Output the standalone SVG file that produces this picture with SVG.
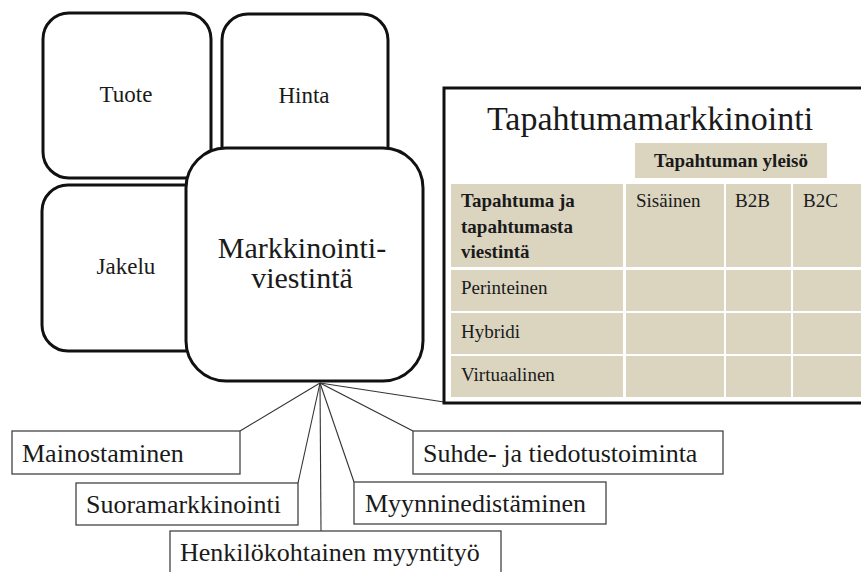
<svg xmlns="http://www.w3.org/2000/svg" width="861" height="572" viewBox="0 0 861 572">
<style>
.big{fill:#fff;stroke:#111;stroke-width:3}
.lbl{fill:#fff;stroke:#444;stroke-width:1.3}
text{font-family:'Liberation Serif','Tinos','Times New Roman','DejaVu Serif',serif;fill:#1a1a1a}
.cell{fill:#dbd5c0}
.conn{stroke:#333;stroke-width:1.1;fill:none}
</style>
<rect width="861" height="572" fill="#fff"/>
<g id="tuote"><rect class="big" x="43" y="13" width="168" height="165" rx="26"/><text x="126" y="102" font-size="23" text-anchor="middle" font-family="Liberation Serif, serif">Tuote</text></g>
<g id="hinta"><rect class="big" x="222" y="14" width="166" height="164" rx="26"/><text x="304" y="103" font-size="23" text-anchor="middle" font-family="Liberation Serif, serif">Hinta</text></g>
<g id="jakelu"><rect class="big" x="42" y="185" width="170" height="166" rx="26"/><text x="126" y="274" font-size="23" text-anchor="middle" font-family="Liberation Serif, serif">Jakelu</text></g>
<g id="markkinointiviestinta"><rect class="big" x="186" y="148" width="237" height="233" rx="40"/><text x="302" y="258" font-size="30" text-anchor="middle" font-family="Liberation Serif, serif">Markkinointi-</text><text x="302" y="288" font-size="30" text-anchor="middle" font-family="Liberation Serif, serif">viestintä</text></g>
<g id="connectors">
<line class="conn" x1="320" y1="383" x2="240" y2="431"/>
<line class="conn" x1="320" y1="383" x2="298" y2="483"/>
<line class="conn" x1="320" y1="383" x2="321" y2="531"/>
<line class="conn" x1="320" y1="383" x2="354" y2="482"/>
<line class="conn" x1="320" y1="383" x2="413" y2="431"/>
<line class="conn" x1="320" y1="383" x2="444" y2="402"/>
</g>
<g id="tapahtumamarkkinointi" font-family="Liberation Serif, serif">
<rect x="444" y="88" width="430" height="315" fill="#fff" stroke="#111" stroke-width="3"/>
<text x="650" y="130" font-size="34" text-anchor="middle">Tapahtumamarkkinointi</text>
<rect class="cell" x="635" y="143" width="192" height="35"/>
<text x="731" y="167" font-size="19" font-weight="bold" text-anchor="middle">Tapahtuman yleisö</text>
<rect class="cell" x="451" y="184" width="172" height="83"/>
<rect class="cell" x="626" y="184" width="98" height="83"/>
<rect class="cell" x="726" y="184" width="65" height="83"/>
<rect class="cell" x="793" y="184" width="68" height="83"/>
<rect class="cell" x="451" y="270" width="172" height="41"/>
<rect class="cell" x="626" y="270" width="98" height="41"/>
<rect class="cell" x="726" y="270" width="65" height="41"/>
<rect class="cell" x="793" y="270" width="68" height="41"/>
<rect class="cell" x="451" y="313" width="172" height="41"/>
<rect class="cell" x="626" y="313" width="98" height="41"/>
<rect class="cell" x="726" y="313" width="65" height="41"/>
<rect class="cell" x="793" y="313" width="68" height="41"/>
<rect class="cell" x="451" y="356" width="172" height="41"/>
<rect class="cell" x="626" y="356" width="98" height="41"/>
<rect class="cell" x="726" y="356" width="65" height="41"/>
<rect class="cell" x="793" y="356" width="68" height="41"/>
<g font-size="19" font-weight="bold">
<text x="461" y="207">Tapahtuma ja</text>
<text x="461" y="233">tapahtumasta</text>
<text x="461" y="258">viestintä</text>
</g>
<g font-size="19">
<text x="636" y="207">Sisäinen</text>
<text x="735" y="207">B2B</text>
<text x="803" y="207">B2C</text>
<text x="461" y="294">Perinteinen</text>
<text x="461" y="338">Hybridi</text>
<text x="461" y="381">Virtuaalinen</text>
</g>
</g>
<g id="mainostaminen"><rect class="lbl" x="12" y="431" width="228" height="43"/><text x="22" y="462" font-size="26" font-family="Liberation Serif, serif">Mainostaminen</text></g>
<g id="suoramarkkinointi"><rect class="lbl" x="76" y="483" width="222" height="42"/><text x="86" y="513" font-size="26" font-family="Liberation Serif, serif">Suoramarkkinointi</text></g>
<g id="henkilokohtainen"><rect class="lbl" x="170" y="531" width="331" height="50"/><text x="180" y="561" font-size="26" font-family="Liberation Serif, serif">Henkilökohtainen myyntityö</text></g>
<g id="myynninedistaminen"><rect class="lbl" x="354" y="482" width="252" height="42"/><text x="365" y="512" font-size="26" font-family="Liberation Serif, serif">Myynninedistäminen</text></g>
<g id="suhde"><rect class="lbl" x="413" y="431" width="310" height="43"/><text x="423" y="462" font-size="26" font-family="Liberation Serif, serif">Suhde- ja tiedotustoiminta</text></g>
</svg>
